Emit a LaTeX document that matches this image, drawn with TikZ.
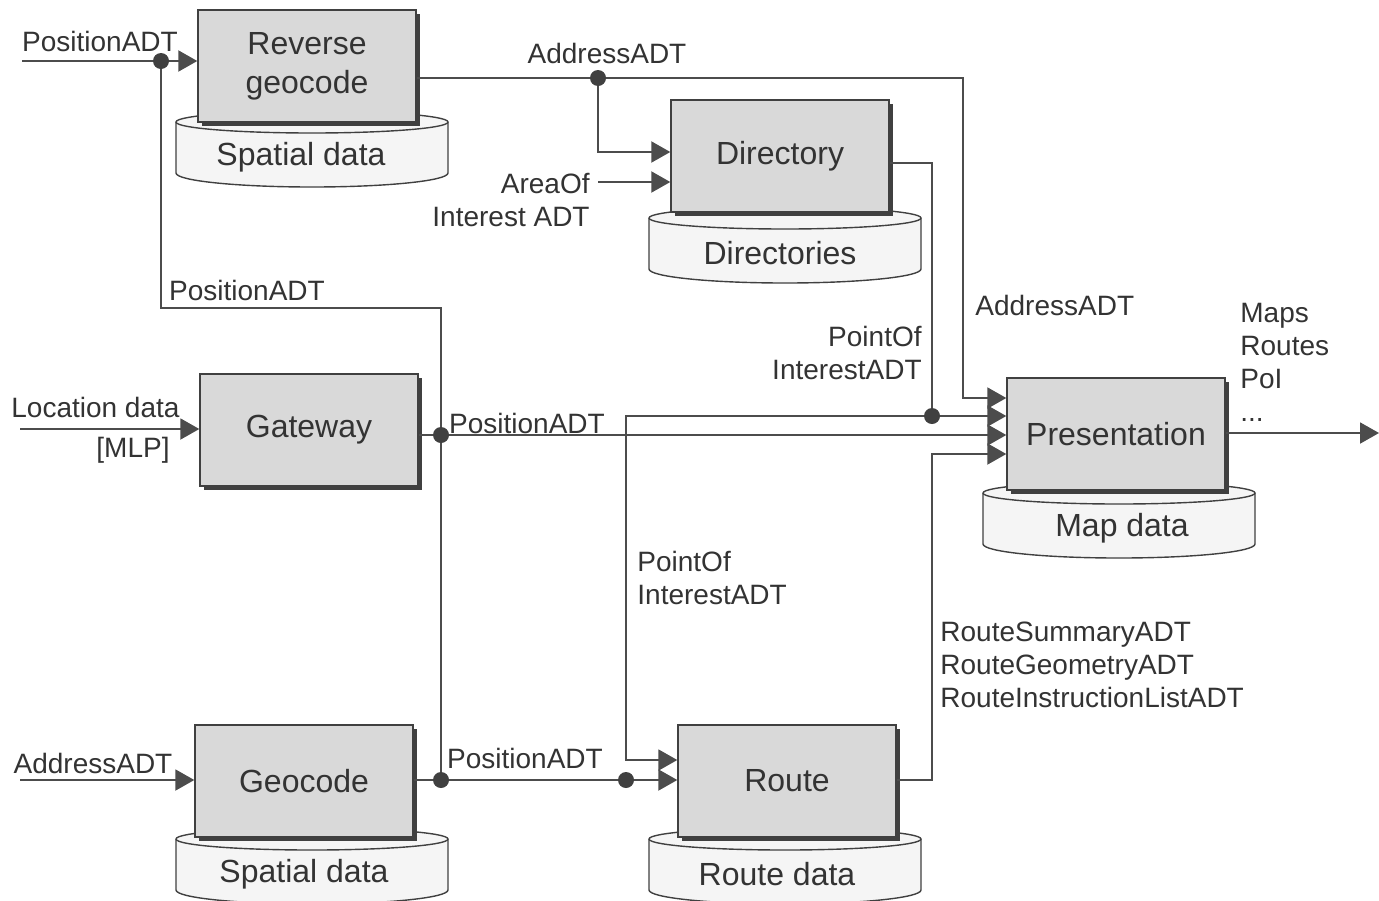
\documentclass[tikz,border=0pt]{standalone}
\usepackage{fontspec}
\setmainfont{Liberation Sans}
\usepackage{tikz}
\usetikzlibrary{arrows.meta,shadows}

\newcommand{\boxfont}{\fontsize{16}{19.5}\selectfont}
\newcommand{\lblfont}{\fontsize{14}{16.5}\selectfont}

% data store under a block: centre x, label x, label y, name, text
\newcommand{\datadisk}[5]{%
	\draw[disk] (#1-136,#3-35) -- (#1-136,#3+16)
		arc[start angle=180, end angle=0, x radius=136, y radius=14]
		-- (#1+136,#3-35)
		arc[start angle=0, end angle=-180, x radius=136, y radius=11] -- cycle;
	\draw[disk, fill=none] (#1-136,#3-35) arc[start angle=180, end angle=0, x radius=136, y radius=11];
	\node[lbl, font=\boxfont] (#4) at (#2,#3) {#5};
}

\begin{document}
\begin{tikzpicture}[x=0.5pt, y=-0.5pt,
	blk/.style={draw=black!75, line width=0.7pt, fill=black!15, text=black!80,
		minimum width=109pt, minimum height=56pt, align=center, font=\boxfont,
		drop shadow={shadow xshift=2pt, shadow yshift=-2pt, fill=black!75, opacity=1}},
	disk/.style={draw=black!75, line width=0.7pt, fill=black!4},
	lbl/.style={font=\lblfont, text=black!80, inner sep=0pt},
	wire/.style={draw=black!70, line width=1pt},
	arr/.style={wire, -{Triangle[length=9.5pt,width=10.5pt]}}]
	%%%%% START %%%%%
	\useasboundingbox (0,0) rectangle (1379,900);
	
	% data stores
	\datadisk{312}{301}{157}{sdrev}{Spatial data}
	\datadisk{785}{780}{253}{dirs}{Directories}
	\datadisk{1119}{1122}{528}{maps}{Map data}
	\datadisk{312}{304}{874}{sdgeo}{Spatial data}
	\datadisk{785}{777}{874}{rdata}{Route data}
	
	% blocks
	\node[blk] (rgeo) at (307,66) {Reverse\\geocode\vphantom{R}};
	\node[blk] (dir) at (780,156) {Directory};
	\node[blk] (gate) at (309,430) {Gateway};
	\node[blk] (pres) at (1116,434) {Presentation};
	\node[blk] (geo) at (304,781) {Geocode};
	\node[blk] (route) at (787,781) {Route};
	
	% junctions and bends
	\coordinate (inPos) at (22,61);
	\coordinate (j1) at (161,61);
	\coordinate (bend) at (441,308);
	\coordinate (j2) at (598,78);
	\coordinate (dirA) at (598,152);
	\coordinate (aoi) at (598,182);
	\coordinate (c1) at (963,398);
	\coordinate (c4) at (932,163);
	\coordinate (j4) at (932,416);
	\coordinate (c2) at (626,760);
	\coordinate (inLoc) at (20,429);
	\coordinate (j3) at (441,435);
	\coordinate (inAddr) at (20,780);
	\coordinate (j5) at (441,780);
	\coordinate (j6) at (626,780);
	\coordinate (c5) at (932,780);
	\coordinate (c3) at (932,454);
	\coordinate (outP) at (1379,433);
	
	% reverse geocode
	\draw[wire] (inPos) -- (j1);
	\draw[arr] (j1) -- (rgeo.west |- j1);
	\draw[wire] (j1) |- (bend) -- (j5);
	\draw[arr] (rgeo.east |- j2) -| (c1) -- (pres.west |- c1);
	\draw[arr] (j2) -- (dirA) -- (dir.west |- dirA);
	\draw[arr] (aoi) -- (dir.west |- aoi);
	
	% directory
	\draw[wire] (dir.east |- c4) -- (c4) -- (j4);
	\draw[arr] (j4) -- (pres.west |- j4);
	\draw[arr] (j4) -| (c2) -- (route.west |- c2);
	
	% gateway
	\draw[arr] (inLoc) -- (gate.west |- inLoc);
	\draw[wire] (gate.east |- j3) -- (j3);
	\draw[arr] (j3) -- (pres.west |- j3);
	
	% geocode and route
	\draw[arr] (inAddr) -- (geo.west |- inAddr);
	\draw[wire] (geo.east |- j5) -- (j5) -- (j6);
	\draw[arr] (j6) -- (route.west |- j6);
	\draw[arr] (route.east |- c5) -- (c5) -- (c3) -- (pres.west |- c3);
	
	% presentation output
	\draw[arr] (pres.east |- outP) -- (outP);
	
	\foreach \j in {j1,j2,j3,j4,j5,j6}
		\fill[black!75] (\j) circle (8);
	
	% labels
	\node[lbl] (tPos1) at (100,41) {PositionADT};
	\node[lbl] (tAddr1) at (607,53) {AddressADT};
	\node[lbl, align=right, anchor=east] (tAoi) at (590,200) {AreaOf\\Interest ADT};
	\node[lbl] (tPos2) at (247,290) {PositionADT};
	\node[lbl, anchor=west] (tAddr2) at (975,305) {AddressADT};
	\node[lbl, align=right, anchor=east] (tPoi1) at (922,353) {PointOf\\InterestADT};
	\node[lbl, align=left, anchor=west] (tOut) at (1240,362) {Maps\\Routes\\PoI\\...};
	\node[lbl, anchor=west] (tLoc) at (11,407) {Location data};
	\node[lbl] (tMlp) at (133,450) {[MLP]};
	\node[lbl] (tPos3) at (527,423) {PositionADT};
	\node[lbl, align=left, anchor=west] (tPoi2) at (637,578) {PointOf\\InterestADT};
	\node[lbl, align=left, anchor=west] (tRoute) at (940,665) {RouteSummaryADT\\RouteGeometryADT\\RouteInstructionListADT};
	\node[lbl] (tAddr3) at (93,763) {AddressADT};
	\node[lbl] (tPos4) at (525,758) {PositionADT};
	
	%%%%% END %%%%%
\end{tikzpicture}
\end{document}
